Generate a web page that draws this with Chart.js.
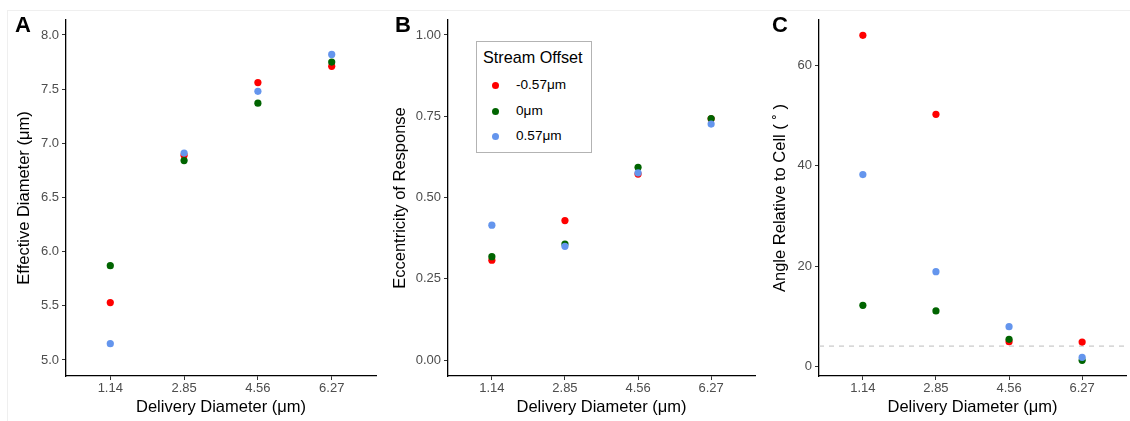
<!DOCTYPE html>
<html>
<head>
<meta charset="utf-8">
<title>Stream offset panels</title>
<script src="https://cdn.jsdelivr.net/npm/chart.js@4.4.0/dist/chart.umd.min.js"></script>
<style>
  body { margin: 0; background: #fff; font-family: "Liberation Sans", Arial, sans-serif; }
  #wrap { position: relative; width: 1130px; height: 421px; overflow: hidden; }
  #wrap canvas { position: absolute; top: 0; }
  .frame { position: absolute; left: 7px; top: 10px; width: 1200px; height: 500px;
           border-left: 1px solid #efefef; border-top: 1px solid #efefef; }
  .tag { position: absolute; top: 14px; font-weight: bold; font-size: 22px; line-height: 22px; }
  #legend { position: absolute; left: 476px; top: 41px; width: 114px; height: 110px;
            border: 1.5px solid #b3b3b3; background: #fff; }
  #legend .ltitle { position: absolute; left: 6px; top: 5px; font-size: 16.2px; line-height: 20px; }
  #legend .row { position: absolute; left: 0; height: 20px; line-height: 20px; font-size: 13.6px; }
  #legend .dot { position: absolute; left: 15px; top: 6.5px; width: 7px; height: 7px; border-radius: 50%; }
  #legend .lbl { position: absolute; left: 39px; top: 0; white-space: nowrap; }
</style>
</head>
<body>
<div id="wrap">
  <div class="frame"></div>
  <canvas id="panelA" width="380" height="421" style="left:0px"></canvas>
  <canvas id="panelB" width="380" height="421" style="left:380px"></canvas>
  <canvas id="panelC" width="370" height="421" style="left:760px"></canvas>
  <div class="tag" style="left:15px">A</div>
  <div class="tag" style="left:395px">B</div>
  <div class="tag" style="left:772px">C</div>
  <div id="legend"><div class="ltitle">Stream Offset</div></div>
</div>
<script>
// categories and series
const deliveryLabels = ['1.14', '2.85', '4.56', '6.27'];
const seriesNames = ['-0.57μm', '0μm', '0.57μm'];
const seriesColors = ['#FF0000', '#006400', '#6495ED'];

// Panel A: effective diameter (µm)
const diamNeg = [5.53, 6.89, 7.56, 7.71];
const diamZero = [5.87, 6.84, 7.37, 7.75];
const diamPos = [5.15, 6.91, 7.48, 7.82];

// Panel B: eccentricity of response
const eccNeg = [0.307, 0.429, 0.572, 0.742];
const eccZero = [0.318, 0.357, 0.593, 0.743];
const eccPos = [0.415, 0.350, 0.576, 0.726];

// Panel C: angle relative to cell (degrees)
const angleNeg = [65.9, 50.2, 4.97, 4.9];
const angleZero = [12.2, 11.1, 5.45, 1.27];
const anglePos = [38.2, 18.9, 7.95, 1.87];
const angleThreshold = 4.1;

// tick labels
const diamTicks = [5.0, 5.5, 6.0, 6.5, 7.0, 7.5, 8.0];
const eccTicks = [0, 0.25, 0.5, 0.75, 1.0];
const angleTicks = [0, 20, 40, 60];

const X_MIN = 0.4, X_MAX = 4.6;
const FONT = '"Liberation Sans", Arial, sans-serif';

Chart.defaults.font.family = FONT;

function pointSets(groups) {
    // red drawn first, blue on top
    return groups.map((vals, i) => ({
        label: seriesNames[i],
        data: vals.map((v, j) => ({ x: j + 1, y: v })),
        backgroundColor: seriesColors[i],
        borderWidth: 0,
        pointRadius: 3.6,
        order: groups.length - i
    }));
}

function makePanel(id, opts) {
    const datasets = pointSets(opts.groups);
    if (opts.hline !== undefined) {
        datasets.push({
            type: 'line',
            data: [{ x: X_MIN, y: opts.hline }, { x: X_MAX, y: opts.hline }],
            borderColor: '#bdbdbd',
            borderWidth: 1,
            borderDash: [5, 5],
            pointRadius: 0,
            order: 10
        });
    }
    return new Chart(document.getElementById(id), {
        type: 'scatter',
        data: { datasets },
        options: {
            responsive: false,
            animation: false,
            devicePixelRatio: 1,
            layout: { padding: { left: 0, top: 20, right: opts.rightPad, bottom: 0 } },
            plugins: { legend: { display: false }, tooltip: { enabled: false } },
            scales: {
                x: {
                    type: 'linear',
                    min: X_MIN,
                    max: X_MAX,
                    afterBuildTicks: s => { s.ticks = deliveryLabels.map((_, i) => ({ value: i + 1 })); },
                    afterFit: s => { s.height = 45; },
                    ticks: {
                        callback: v => deliveryLabels[Math.round(v) - 1],
                        color: '#4d4d4d',
                        font: { size: 13 },
                        padding: 1,
                        autoSkip: false,
                        maxRotation: 0
                    },
                    grid: { drawOnChartArea: false, drawTicks: true, tickLength: 4, color: '#333', lineWidth: 1 },
                    border: { display: true, color: '#000', width: 1.3 },
                    title: {
                        display: true,
                        text: 'Delivery Diameter (μm)',
                        color: '#000',
                        font: { size: 16.5 },
                        padding: { top: 0, bottom: 4 }
                    }
                },
                y: {
                    min: opts.yMin,
                    max: opts.yMax,
                    afterBuildTicks: s => { s.ticks = opts.yTicks.map(v => ({ value: v })); },
                    afterFit: s => { s.width = opts.yWidth; },
                    ticks: {
                        callback: v => v.toFixed(opts.decimals),
                        color: '#4d4d4d',
                        font: { size: 13 },
                        padding: 3
                    },
                    grid: { drawOnChartArea: false, drawTicks: true, tickLength: 4, color: '#333', lineWidth: 1 },
                    border: { display: true, color: '#000', width: 1.3 },
                    title: {
                        display: true,
                        text: opts.yTitle,
                        color: '#000',
                        font: { size: 16.5 },
                        padding: { top: opts.titlePad, bottom: 0 }
                    }
                }
            }
        }
    });
}

makePanel('panelA', {
    groups: [diamNeg, diamZero, diamPos],
    yMin: 4.852, yMax: 8.138, yTicks: diamTicks, decimals: 1,
    yTitle: 'Effective Diameter (μm)', titlePad: 15, yWidth: 66, rightPad: 3
});

makePanel('panelB', {
    groups: [eccNeg, eccZero, eccPos],
    yMin: -0.049, yMax: 1.046, yTicks: eccTicks, decimals: 2,
    yTitle: 'Eccentricity of Response', titlePad: 11, yWidth: 68, rightPad: 5
});

makePanel('panelC', {
    groups: [angleNeg, angleZero, anglePos],
    yMin: -1.85, yMax: 68.95, yTicks: angleTicks, decimals: 0,
    yTitle: 'Angle Relative to Cell ( ˚ )', titlePad: 11, yWidth: 59, rightPad: 0,
    hline: angleThreshold
});

// HTML legend built from the series names/colours
const legend = document.getElementById('legend');
const rowCenters = [43, 69, 94];
seriesNames.forEach((name, i) => {
    const row = document.createElement('div');
    row.className = 'row';
    row.style.top = (rowCenters[i] - 10) + 'px';
    row.innerHTML = `<span class="dot" style="background:${seriesColors[i]}"></span><span class="lbl">${name}</span>`;
    legend.appendChild(row);
});
</script>
</body>
</html>
